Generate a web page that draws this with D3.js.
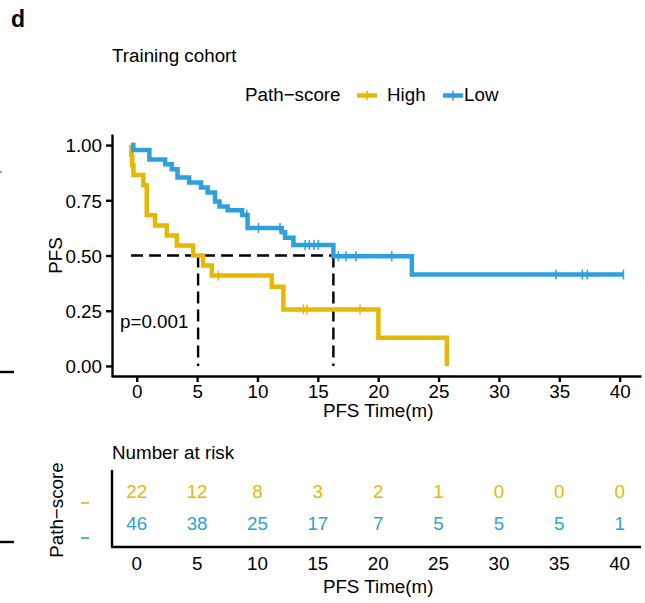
<!DOCTYPE html>
<html><head><meta charset="utf-8">
<script src="https://cdn.jsdelivr.net/npm/d3@7"></script>
<style>
html,body{margin:0;padding:0;background:#fff;}
svg{display:block;font-family:"Liberation Sans",Arial,Helvetica,sans-serif;}
</style></head><body>
<svg id="chart" width="645" height="603"></svg>
<script>
// Kaplan–Meier steps per group: time (months) of each drop and survival after it
const highStepTimes = [0.03, 0.1, 0.2, 1.02, 1.3, 1.99, 2.96, 3.79, 5.14, 5.97, 6.69, 11.66, 12.62, 20.49, 26.16];
const highStepSurv  = [0.955, 0.909, 0.864, 0.818, 0.682, 0.636, 0.591, 0.545, 0.500, 0.455, 0.409, 0.358, 0.256, 0.128, 0.000];
const highCensorTimes = [7.23, 14.28, 14.56, 18.97];

const lowStepTimes = [0.19, 1.52, 2.82, 3.37, 3.85, 4.81, 5.80, 6.34, 6.96, 7.33, 8.0, 9.2, 9.65, 12.49, 12.76, 13.45, 16.76, 23.26];
const lowStepSurv  = [0.978, 0.935, 0.913, 0.891, 0.853, 0.830, 0.808, 0.785, 0.745, 0.722, 0.705, 0.683, 0.625, 0.605, 0.580, 0.548, 0.497, 0.414];
const lowCensorTimes = [9.59, 10.55, 12.34, 14.42, 14.77, 15.16, 15.52, 17.18, 17.81, 18.64, 21.6, 35.2, 37.39, 37.8, 40.79];

// Number at risk table
const riskTimes = [0, 5, 10, 15, 20, 25, 30, 35, 40];
const riskHigh  = [22, 12, 8, 3, 2, 1, 0, 0, 0];
const riskLow   = [46, 38, 25, 17, 7, 5, 5, 5, 1];

const groupNames = ["High", "Low"];
const groupColors = ["#E7B800", "#2E9FDF"];
const survTicks = [0, 0.25, 0.5, 0.75, 1];
const timeTicks = [0, 5, 10, 15, 20, 25, 30, 35, 40];
const pValueLabel = "p=0.001";

const svg = d3.select("#chart");
const FS = 18.8;

// scales
const x = d3.scaleLinear().domain([-2.05, 41.77]).range([112, 641]);
const curveShift = -5.7;                       // curves sit slightly left of the tick grid
const xc = t => x(t) + curveShift;
const y = d3.scaleLinear().domain([-0.05, 1.05]).range([377, 134]);

function txt(g, s, px, py, opts = {}) {
  const t = g.append("text").attr("x", px).attr("y", py).text(s)
    .attr("font-size", opts.size || FS).attr("fill", opts.fill || "#000");
  if (opts.anchor) t.attr("text-anchor", opts.anchor);
  if (opts.weight) t.attr("font-weight", opts.weight);
  if (opts.rotate) t.attr("transform", `rotate(${opts.rotate},${px},${py})`);
  return t;
}

// panel tag and title
txt(svg, "d", 11, 27, {size: 23, weight: "bold"});
txt(svg, "Training cohort", 112, 62);

// legend
const lg = svg.append("g");
txt(lg, "Path\u2212score", 245, 101);
const keyX = [357, 443];
groupNames.forEach((n, i) => {
  lg.append("line").attr("x1", keyX[i]).attr("x2", keyX[i] + 20).attr("y1", 95.5).attr("y2", 95.5)
    .attr("stroke", groupColors[i]).attr("stroke-width", 4.5);
  lg.append("line").attr("x1", keyX[i] + 10).attr("x2", keyX[i] + 10).attr("y1", 90.5).attr("y2", 100.5)
    .attr("stroke", groupColors[i]).attr("stroke-width", 1.5);
  txt(lg, n, keyX[i] + (i === 0 ? 30 : 21), 101);
});

// axes of the survival panel
const axisStroke = 2.4;
const gy = svg.append("g").attr("transform", "translate(112,0)")
  .call(d3.axisLeft(y).tickValues(survTicks).tickFormat(d3.format(".2f")).tickSize(6).tickPadding(4).tickSizeOuter(0));
const gx = svg.append("g").attr("transform", "translate(0,376)")
  .call(d3.axisBottom(x).tickValues(timeTicks).tickSize(6).tickSizeOuter(0));
[gx, gy].forEach(g => {
  g.selectAll("path.domain").attr("stroke", "#000").attr("stroke-width", axisStroke);
  g.selectAll(".tick line").attr("stroke", "#000").attr("stroke-width", axisStroke);
  g.selectAll(".tick text").attr("font-size", FS).attr("fill", "#000").attr("font-family", null);
});
gy.selectAll(".tick text").attr("dy", "0.36em");
gx.selectAll(".tick text").attr("y", 22).attr("dy", null);

txt(svg, "PFS", 62, y(0.5), {anchor: "middle", rotate: -90});
txt(svg, "PFS Time(m)", x(20), 417, {anchor: "middle"});

// step helpers
function stepPoints(times, surv, endTime) {
  const pts = [[0, 1]];
  let prev = 1;
  times.forEach((t, i) => { pts.push([t, prev]); pts.push([t, surv[i]]); prev = surv[i]; });
  if (endTime !== undefined && endTime > times[times.length - 1]) pts.push([endTime, prev]);
  return pts;
}
function survAt(times, surv, t) {
  let s = 1;
  times.forEach((tt, i) => { if (tt <= t) s = surv[i]; });
  return s;
}
function medianOf(times, surv) {
  for (let i = 0; i < surv.length; i++) {
    if (surv[i] <= 0.5) {
      if (Math.abs(surv[i] - 0.5) < 1e-9 && i + 1 < times.length) return (times[i] + times[i + 1]) / 2;
      return times[i];
    }
  }
  return null;
}

const groups = [
  {times: highStepTimes, surv: highStepSurv, cens: highCensorTimes},
  {times: lowStepTimes, surv: lowStepSurv, cens: lowCensorTimes}
];

// median reference lines
const medians = groups.map(g => medianOf(g.times, g.surv));
const ml = svg.append("g").attr("stroke", "#000").attr("stroke-width", 2.4).attr("stroke-dasharray", "12,6").attr("fill", "none");
ml.append("line").attr("x1", xc(0)).attr("x2", xc(d3.max(medians))).attr("y1", y(0.5)).attr("y2", y(0.5));
medians.forEach(m => {
  ml.append("line").attr("x1", xc(m)).attr("x2", xc(m)).attr("y1", y(0.5)).attr("y2", y(0));
});

// survival curves
const line = d3.line().x(d => xc(d[0])).y(d => y(d[1]));
groups.forEach((g, i) => {
  const end = d3.max(g.cens.concat(g.times));
  svg.append("path").datum(stepPoints(g.times, g.surv, end))
    .attr("d", line).attr("fill", "none").attr("stroke", groupColors[i])
    .attr("stroke-width", 4.5).attr("stroke-linejoin", "miter");
});
// censor marks
groups.forEach((g, i) => {
  svg.append("g").selectAll("line").data(g.cens).join("line")
    .attr("x1", d => xc(d)).attr("x2", d => xc(d))
    .attr("y1", d => y(survAt(g.times, g.surv, d)) - 5)
    .attr("y2", d => y(survAt(g.times, g.surv, d)) + 5)
    .attr("stroke", groupColors[i]).attr("stroke-width", 1.5);
});

txt(svg, pValueLabel, 120, 328);

// number at risk table
txt(svg, "Number at risk", 112, 459);
const rowY = [498, 530];
[riskHigh, riskLow].forEach((row, i) => {
  svg.append("g").selectAll("text").data(row).join("text")
    .attr("x", (d, j) => x(riskTimes[j])).attr("y", rowY[i])
    .attr("text-anchor", "middle").attr("font-size", FS).attr("fill", groupColors[i])
    .text(d => d);
});
// colored row keys
const keyRowY = [503, 538];
groupColors.forEach((c, i) => {
  svg.append("line").attr("x1", 81).attr("x2", 89).attr("y1", keyRowY[i]).attr("y2", keyRowY[i])
    .attr("stroke", c).attr("stroke-width", 1.6);
});
txt(svg, "Path\u2212score", 63, 510, {anchor: "middle", rotate: -90});
const tg = svg.append("g").attr("stroke", "#000").attr("stroke-width", axisStroke);
tg.append("line").attr("x1", 112).attr("x2", 112).attr("y1", 470).attr("y2", 547);
tg.append("line").attr("x1", 111).attr("x2", 641).attr("y1", 547).attr("y2", 547);
svg.append("g").selectAll("text").data(timeTicks).join("text")
  .attr("x", d => x(d)).attr("y", 570).attr("text-anchor", "middle").attr("font-size", FS).text(d => d);
txt(svg, "PFS Time(m)", x(20), 593, {anchor: "middle"});

// edge of the neighbouring panel
svg.append("line").attr("x1", 0).attr("x2", 2).attr("y1", 172).attr("y2", 172).attr("stroke", "#2E9FDF").attr("stroke-width", 1.6);
svg.append("line").attr("x1", 0).attr("x2", 14).attr("y1", 372).attr("y2", 372).attr("stroke", "#000").attr("stroke-width", 2.4);
svg.append("line").attr("x1", 0).attr("x2", 14).attr("y1", 542).attr("y2", 542).attr("stroke", "#000").attr("stroke-width", 2.4);
</script>
</body></html>
